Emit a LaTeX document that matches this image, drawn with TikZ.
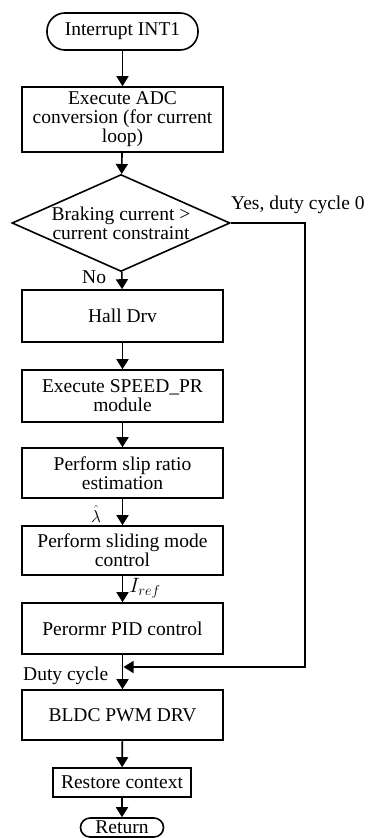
\documentclass[tikz,border=0pt]{standalone}
\usepackage{fontspec}
\setmainfont{Liberation Serif}
\usetikzlibrary{shapes.geometric,arrows.meta}
\begin{document}
\begin{tikzpicture}[x=1pt,y=-1pt,
  every node/.style={font=\fontsize{19.5}{19}\selectfont},
  box/.style={draw, line width=1.6pt, minimum width=201pt, align=center, inner sep=0pt},
  term/.style={draw, line width=1.6pt, align=center, inner sep=0pt},
  decision/.style={draw, diamond, line width=1.6pt, align=center, inner sep=0pt, shape aspect=2.25, minimum width=218pt, minimum height=97pt},
  arr/.style={line width=1.6pt, -{Triangle[length=10pt,width=12pt]}},
  lbl/.style={inner sep=0pt}]
\useasboundingbox (0,0) rectangle (371,838);

\node[term, minimum width=151pt, minimum height=37pt, rounded corners=18pt] (start) at (122.5,31.5) {Interrupt INT1};
\node[box, minimum height=65pt] (adc) at (122.5,119.5) {Execute ADC\\conversion (for current\\loop)};
\node[decision] (dia) at (121,223) {Braking current >\\current constraint};
\node[box, minimum height=52pt] (hall) at (122.5,316) {Hall Drv};
\node[box, minimum height=52pt] (speed) at (122.5,396) {Execute SPEED\_PR\\module};
\node[box, minimum height=50pt] (slip) at (122.5,473) {Perform slip ratio\\estimation};
\node[box, minimum height=49pt] (slide) at (122.5,550.5) {Perform sliding mode\\control};
\node[box, minimum height=51pt] (pid) at (122.5,628.5) {Perormr PID control};
\node[box, minimum height=50pt] (bldc) at (122.5,715) {BLDC PWM DRV};
\node[box, minimum width=138pt, minimum height=29pt] (restore) at (122,782.5) {Restore context};
\node[term, minimum width=83pt, minimum height=19pt, rounded corners=9.5pt] (ret) at (122,827.5) {Return};

\coordinate (merge) at (123.5,667);
\coordinate (corner) at (305,667);

\draw[arr] (start) -- (adc);
\draw[arr] (adc) -- (dia);
\draw[arr] (dia) -- (hall);
\draw[arr] (hall) -- (speed);
\draw[arr] (speed) -- (slip);
\draw[arr] (slip) -- (slide);
\draw[arr] (slide) -- (pid);
\draw[arr] (pid) -- (bldc);
\draw[arr] (bldc) -- (restore);
\draw[arr] (restore) -- (ret);
\draw[arr] (dia.east) -| (corner) -- (merge);

\node[lbl, anchor=base west] (yes) at (231,209) {Yes, duty cycle 0};
\node[lbl, anchor=base west] (no) at (82,283) {No};
\node[lbl, font=\fontsize{18}{18}\selectfont] (lam) at (96,514) {$\hat{\lambda}$};
\node[lbl] (iref) at (145,588) {$I_{ref}$};
\node[lbl, anchor=base west] (duty) at (23,680) {Duty cycle};
\end{tikzpicture}
\end{document}
